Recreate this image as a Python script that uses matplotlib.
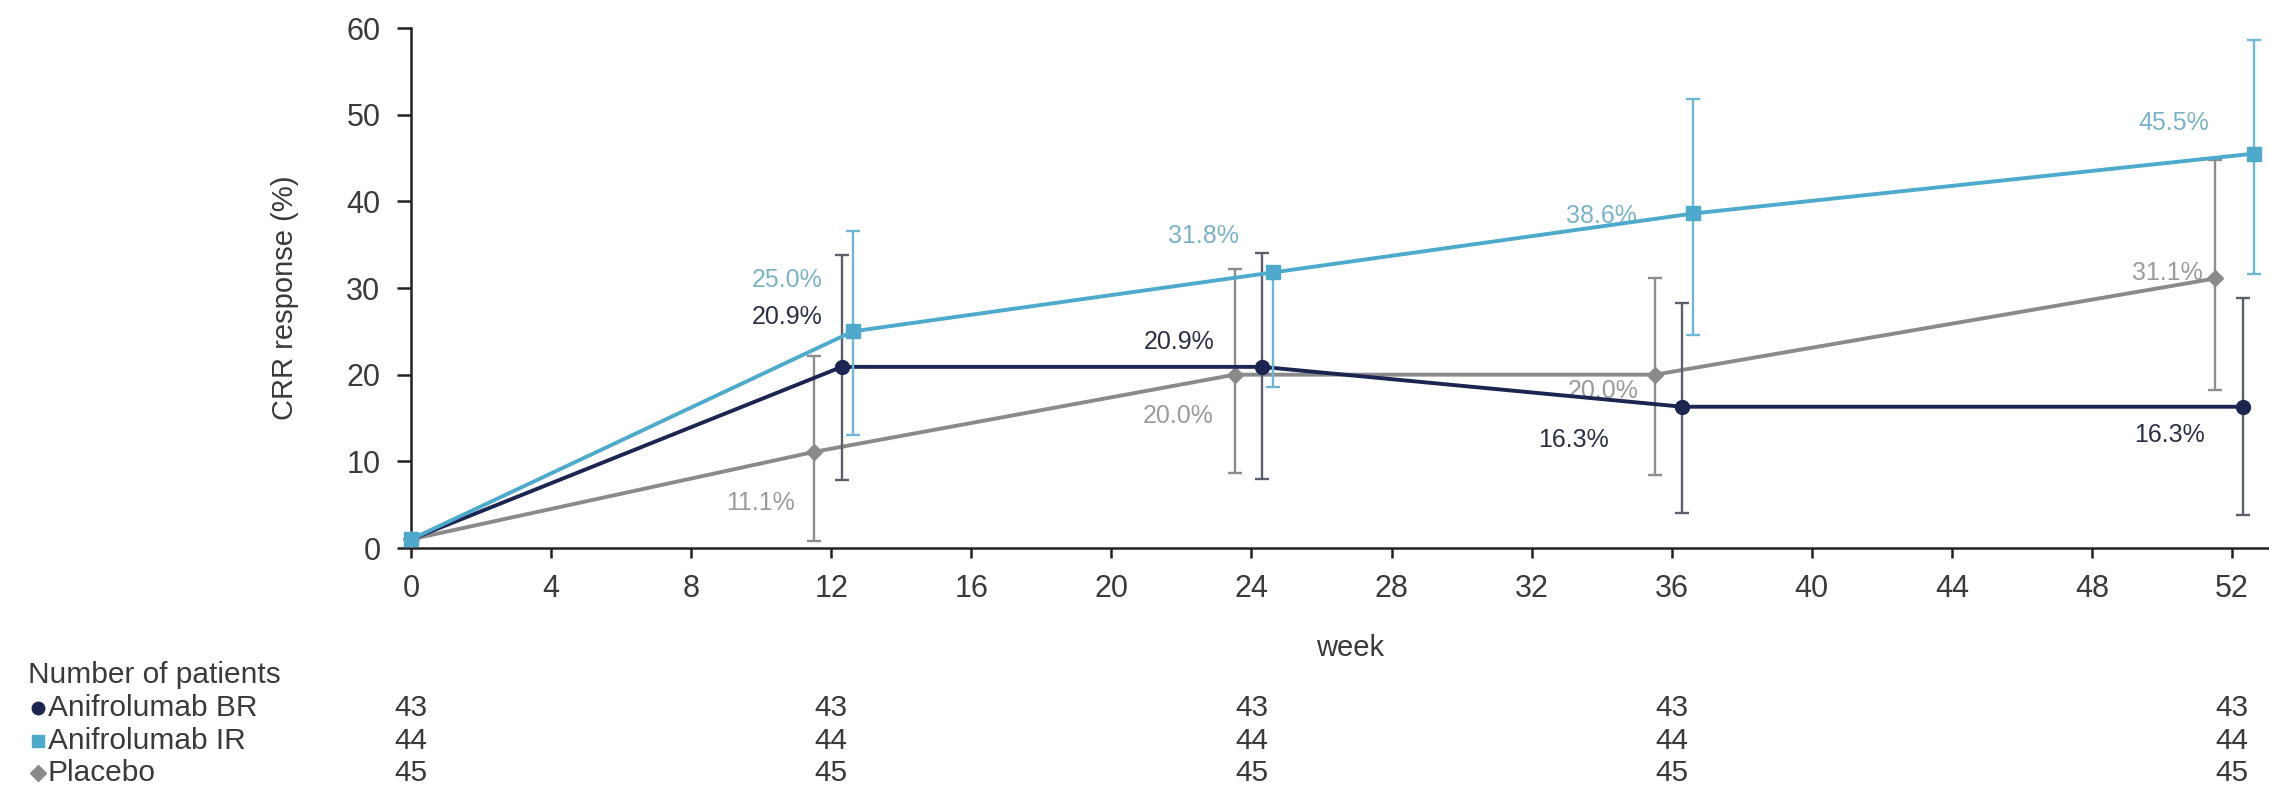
import matplotlib
matplotlib.use("Agg")
import matplotlib.pyplot as plt
import numpy as np
from matplotlib.lines import Line2D
from matplotlib.transforms import blended_transform_factory

plt.rcParams["font.family"] = ["Liberation Sans", "DejaVu Sans"]

# ---- data -------------------------------------------------------------
weeks = [0, 12, 24, 36, 52]
tick_weeks = list(range(0, 53, 4))

br_values = [1.0, 20.9, 20.9, 16.3, 16.3]
br_lower = [1.0, 7.8, 8.0, 4.0, 3.8]
br_upper = [1.0, 33.8, 34.0, 28.3, 28.8]

ir_values = [1.0, 25.0, 31.8, 38.6, 45.5]
ir_lower = [1.0, 13.0, 18.6, 24.6, 31.6]
ir_upper = [1.0, 36.6, 31.8, 51.8, 58.6]

pbo_values = [1.0, 11.1, 20.0, 20.0, 31.1]
pbo_lower = [1.0, 0.8, 8.7, 8.4, 18.2]
pbo_upper = [1.0, 22.2, 32.2, 31.2, 44.8]

n_br = [43, 43, 43, 43, 43]
n_ir = [44, 44, 44, 44, 44]
n_pbo = [45, 45, 45, 45, 45]

series_names = ["Anifrolumab BR", "Anifrolumab IR", "Placebo"]

# ---- styling ------------------------------------------------------------
C_BR, C_IR, C_PBO = "#1c2452", "#4eaacd", "#8a8a8a"
C_BR_ERR, C_IR_ERR, C_PBO_ERR = "#5c5f6b", "#6db7d4", "#8c8c8c"
C_BR_TXT, C_IR_TXT, C_PBO_TXT = "#2a2f45", "#7ab3c9", "#9a9a9a"
TXT = "#3a3a3a"

# horizontal nudge so overlapping bars stay readable (weeks > 0 only)
shift = {"br": 0.3, "ir": 0.62, "pbo": -0.48}

# label offsets (points) relative to each point, weeks 12..52
br_lab = [(-14, 36), (-34, 18), (-53, -24), (-27, -20)]
ir_lab = [(-22, 37), (-25, 26), (-41, -2), (-32, 22)]
pbo_lab = [(-14, -37), (-15, -30), (-12, -12), (-9, 4)]

W, H, DPI = 2269, 793, 100
fig = plt.figure(figsize=(W / DPI, H / DPI), dpi=DPI)
ax = fig.add_axes([411 / W, 1 - 548 / H, (W - 411) / W, (548 - 28) / H])

def xs(key):
    w = np.array(weeks, dtype=float)
    return w + shift[key] * (w > 0)

def draw(key, vals, lo, hi, color, ecolor, marker, ms, z):
    x = xs(key)
    v = np.array(vals)
    yerr = np.vstack([v - np.array(lo), np.array(hi) - v])
    ax.errorbar(x[1:], v[1:], yerr=yerr[:, 1:], fmt="none", ecolor=ecolor,
                elinewidth=1.7, capsize=4.8, capthick=1.7, zorder=z, clip_on=False)
    ax.plot(x, v, color=color, lw=2.8, marker=marker, ms=ms,
            markerfacecolor=color, markeredgecolor=color, zorder=z + 1, clip_on=False)

draw("pbo", pbo_values, pbo_lower, pbo_upper, C_PBO, C_PBO_ERR, "D", 8, 2)
draw("br", br_values, br_lower, br_upper, C_BR, C_BR_ERR, "o", 10, 4)
draw("ir", ir_values, ir_lower, ir_upper, C_IR, C_IR_ERR, "s", 9.5, 6)

def labels(key, vals, offs, color):
    x = xs(key)
    for xi, v, (dx, dy) in zip(x[1:], vals[1:], offs):
        ax.annotate(f"{v:.1f}%", (xi, v), xytext=(dx, dy), textcoords="offset points",
                    ha="right", va="center", fontsize=18, color=color)

labels("br", br_values, br_lab, C_BR_TXT)
labels("ir", ir_values, ir_lab, C_IR_TXT)
labels("pbo", pbo_values, pbo_lab, C_PBO_TXT)

ax.set_xlim(0, (W - 411) / 35.02)
ax.set_ylim(0, 60)
ax.set_xticks(tick_weeks)
ax.set_yticks(range(0, 61, 10))
for s in ("top", "right"):
    ax.spines[s].set_visible(False)
for s in ("left", "bottom"):
    ax.spines[s].set_linewidth(1.8)
    ax.spines[s].set_color("#222222")
ax.tick_params(axis="both", colors="#222222", labelcolor=TXT, labelsize=22,
               width=1.8)
ax.tick_params(axis="x", length=7, pad=12)
ax.tick_params(axis="y", length=10, pad=12)

fig.text(285 / W, 1 - 298 / H, "CRR response (%)", rotation=90, ha="center",
         va="center", fontsize=21, color=TXT)
fig.text(1350 / W, 1 - 648 / H, "week", ha="center", va="center",
         fontsize=21, color=TXT)

# ---- number-at-risk table ---------------------------------------------
tr = blended_transform_factory(ax.transData, fig.transFigure)
fig.text(28 / W, 1 - 675 / H, "Number of patients", ha="left", va="center",
         fontsize=21.5, color=TXT)
rows = [(n_br, C_BR, "o"), (n_ir, C_IR, "s"), (n_pbo, C_PBO, "D")]
row_y = [708, 741, 773]
for (counts, col, mk), name, yy in zip(rows, series_names, row_y):
    fy = 1 - yy / H
    fig.add_artist(Line2D([38 / W], [fy], marker=mk, color=col, ms=9 if mk != "D" else 8,
                          transform=fig.transFigure))
    fig.text(48 / W, fy, name, ha="left", va="center", fontsize=21.5, color=TXT)
    for w, n in zip(weeks, counts):
        fig.text(w, fy, str(n), transform=tr, ha="center", va="center",
                 fontsize=21.5, color=TXT)

fig.savefig("out.png", dpi=DPI)
